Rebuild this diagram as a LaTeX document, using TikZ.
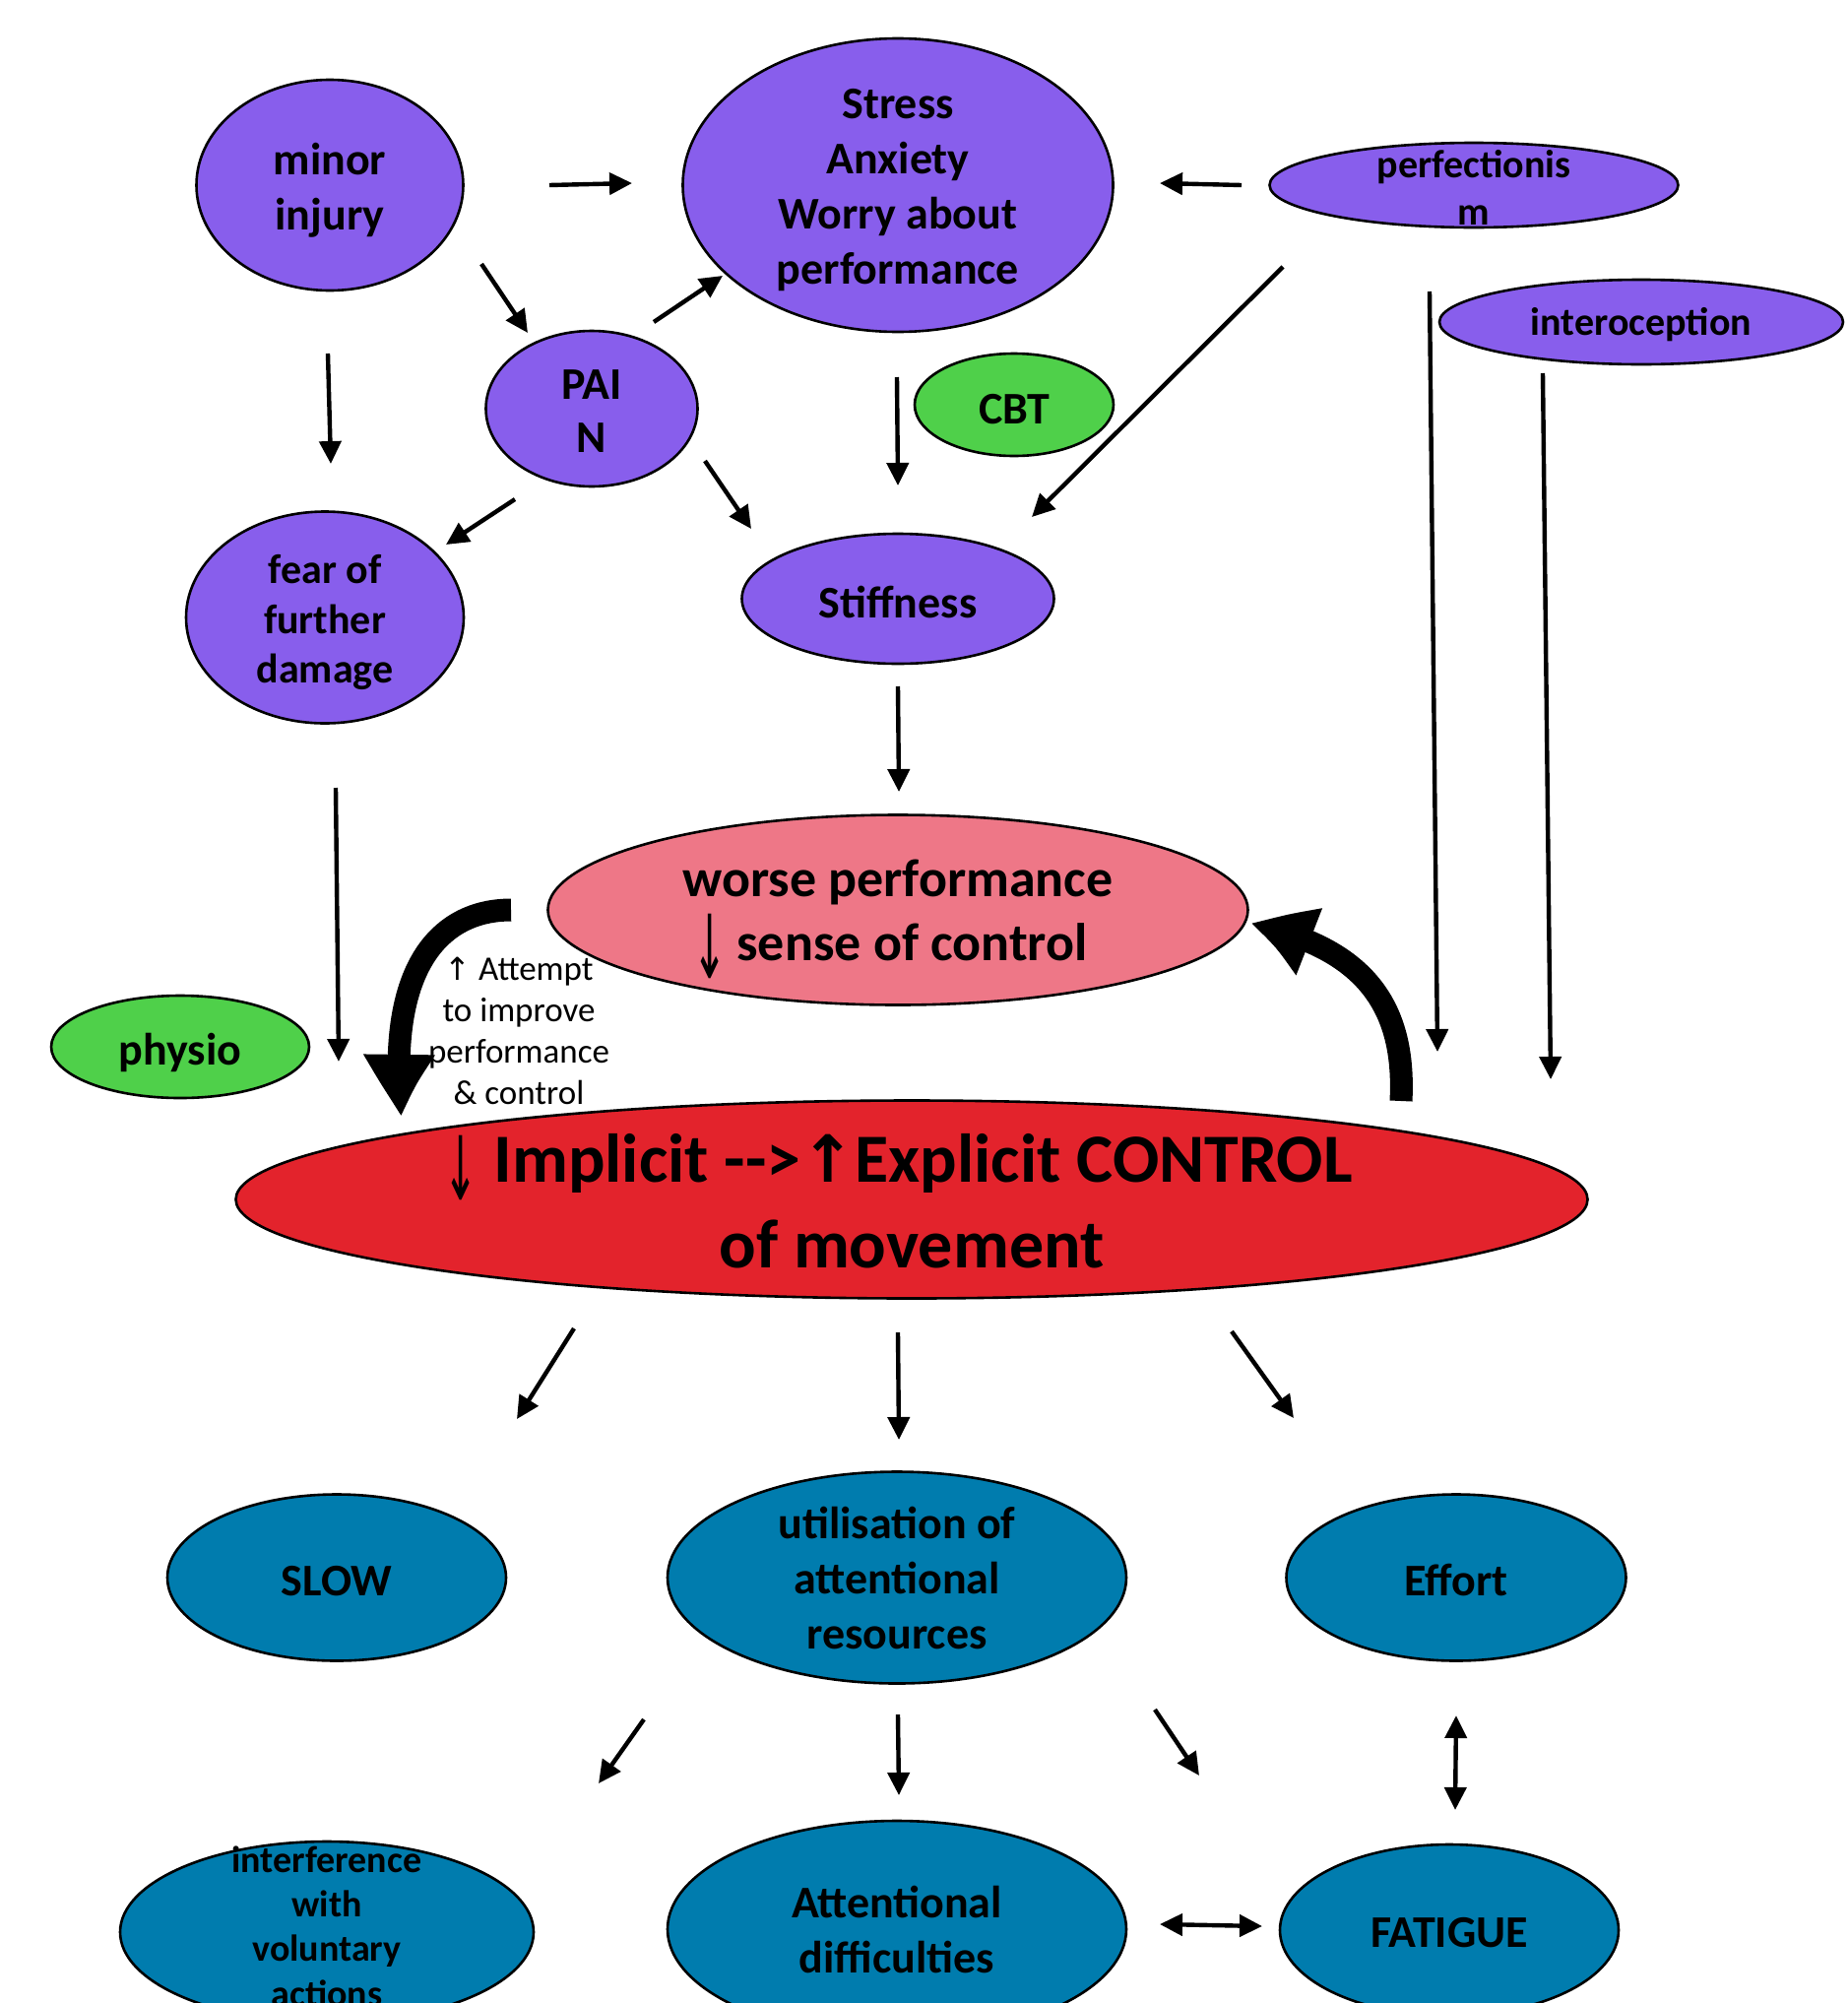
\documentclass[tikz,border=0pt]{standalone}
\usepackage{fontspec}
\newfontfamily\calfont{Carlito}
\newfontfamily\arrowf{DejaVu Sans}
\usetikzlibrary{shapes.geometric,arrows.meta,bending}
\definecolor{cpurple}{RGB}{136,94,236}
\definecolor{cgreen}{RGB}{79,208,74}
\definecolor{cpink}{RGB}{238,119,135}
\definecolor{cred}{RGB}{227,35,44}
\definecolor{cteal}{RGB}{0,124,174}
\tikzset{
 ell/.style={ellipse, draw=black, line width=1.3pt, inner sep=0pt},
 lbl/.style={align=center, inner sep=0pt, font=\calfont\bfseries\fontsize{23}{28}\selectfont},
 arr/.style={line width=2.2pt, -{Triangle[length=11.5pt,width=11pt]}},
 darr/.style={line width=2.2pt, {Triangle[length=11.5pt,width=11pt]}-{Triangle[length=11.5pt,width=11pt]}},
 bigarr/.style={line width=11.5pt, -{Triangle[length=33pt,width=33pt,bend]}},
}
\newcommand{\bigdown}{\smash{\raisebox{-9pt}{\arrowf\mdseries\fontsize{28}{28}\selectfont\scalebox{0.75}[1.6]{↓}}}}
\begin{document}
\begin{tikzpicture}[x=0.5pt,y=-0.5pt]
\useasboundingbox (0,0) rectangle (1876,2034);
\clip (0,0) rectangle (1876,2034);
% ---- purple nodes
\node[ell, fill=cpurple, minimum width=135.5pt, minimum height=107pt] (minor) at (335,188) {};
\node[lbl, yshift=-2.5pt] (minor-t) at (minor) {minor\\injury};
\node[ell, fill=cpurple, minimum width=218.5pt, minimum height=149pt] (stress) at (912,188) {};
\node[lbl, yshift=-2.5pt] (stress-t) at (stress) {Stress\\Anxiety\\Worry about\\performance};
\node[ell, fill=cpurple, minimum width=207.5pt, minimum height=43pt] (perf) at (1497,188) {};
\node[lbl, yshift=-1pt, font=\calfont\bfseries\fontsize{20}{24}\selectfont] (perf-t) at (perf) {perfectionis\\m};
\node[ell, fill=cpurple, minimum width=205pt, minimum height=43pt] (intero) at (1667,327) {};
\node[lbl, yshift=-1.5pt, font=\calfont\bfseries\fontsize{20}{24}\selectfont] (intero-t) at (intero) {interoception};
\node[ell, fill=cpurple, minimum width=107.5pt, minimum height=79pt] (pain) at (601,415) {};
\node[lbl, yshift=-1.5pt, font=\calfont\bfseries\fontsize{23}{27}\selectfont] (pain-t) at (pain) {PAI\\N};
\node[ell, fill=cgreen, minimum width=101pt, minimum height=52pt] (cbt) at (1030,411) {};
\node[lbl, yshift=-2.5pt] (cbt-t) at (cbt) {CBT};
\node[ell, fill=cpurple, minimum width=141pt, minimum height=107.5pt] (fear) at (330,627) {};
\node[lbl, yshift=-2.5pt, font=\calfont\bfseries\fontsize{21}{25.3}\selectfont] (fear-t) at (fear) {fear of\\further\\damage};
\node[ell, fill=cpurple, minimum width=158.5pt, minimum height=66pt] (stiff) at (912,608) {};
\node[lbl, yshift=-1.5pt] (stiff-t) at (stiff) {Stiffness};
% ---- central nodes
\node[ell, fill=cpink, minimum width=355.5pt, minimum height=96.5pt] (worse) at (912,924) {};
\node[lbl, font=\calfont\bfseries\fontsize{27}{32.5}\selectfont] (worse-t) at (worse) {worse performance\\\bigdown\hspace{5pt}sense of control\hspace*{8pt}};
\node[ell, fill=cgreen, minimum width=131pt, minimum height=52pt] (physio) at (183,1063) {};
\node[lbl, yshift=-3pt] (physio-t) at (physio) {physio};
\node[ell, fill=cred, minimum width=686.5pt, minimum height=100.5pt] (impl) at (926,1218) {};
\node[lbl, font=\calfont\bfseries\fontsize{35}{43.5}\selectfont] (impl-t) at (926,1220) {\bigdown\hspace{8pt}Implicit -->{\arrowf\fontsize{33}{33}\selectfont ↑}Explicit CONTROL\hspace*{14pt}\\of movement};
\node[align=center, inner sep=0pt, font=\calfont\fontsize{17.5}{21}\selectfont] (attempt) at (527,1047) {{\arrowf\fontsize{16}{16}\selectfont ↑} Attempt\\to improve\\performance\\\& control};
% ---- teal nodes
\node[ell, fill=cteal, minimum width=172pt, minimum height=84.5pt] (slow) at (342,1602) {};
\node[lbl, yshift=-2pt] (slow-t) at (slow) {SLOW};
\node[ell, fill=cteal, minimum width=233pt, minimum height=107.5pt] (util) at (911,1602) {};
\node[lbl] (util-t) at (util) {utilisation of\\attentional\\resources};
\node[ell, fill=cteal, minimum width=172.5pt, minimum height=84.5pt] (effort) at (1479,1602) {};
\node[lbl, yshift=-1pt] (effort-t) at (effort) {Effort};
\node[ell, fill=cteal, minimum width=210pt, minimum height=92pt] (interf) at (332,1962) {};
\node[lbl, yshift=3pt, font=\calfont\bfseries\fontsize{19}{22.7}\selectfont] (interf-t) at (interf) {interference\\with\\voluntary\\actions};
\node[ell, fill=cteal, minimum width=233pt, minimum height=110pt] (attn) at (911,1959) {};
\node[lbl] (attn-t) at (attn) {Attentional\\difficulties};
\node[ell, fill=cteal, minimum width=172pt, minimum height=87pt] (fatigue) at (1472,1960) {};
\node[lbl, yshift=-1.5pt] (fatigue-t) at (fatigue) {FATIGUE};
% ---- connectors
\draw[arr] ([shift={(223,0)}]minor.center) -- ([shift={(-270,-2)}]stress.center);
\draw[arr] ([shift={(-236,0)}]perf.center) -- ([shift={(266,-2)}]stress.center);
\draw[arr] ([shift={(154,80)}]minor.center) -- ([shift={(-65,-77)}]pain.center);
\draw[arr] ([shift={(63,-88)}]pain.center) -- ([shift={(-178,92)}]stress.center);
\draw[arr] ([shift={(-2,171)}]minor.center) -- ([shift={(6,-156)}]fear.center);
\draw[arr] ([shift={(-78,92)}]pain.center) -- ([shift={(123,-74)}]fear.center);
\draw[arr] ([shift={(115,53)}]pain.center) -- ([shift={(-149,-71)}]stiff.center);
\draw[arr] ([shift={(-1,195)}]stress.center) -- ([shift={(0,-115)}]stiff.center);
\draw[arr] ([shift={(-194,83)}]perf.center) -- ([shift={(136,-83)}]stiff.center);
\draw[arr] ([shift={(-45,108)}]perf.center) -- ([shift={(534,-150)}]impl.center);
\draw[arr] ([shift={(-100,52)}]intero.center) -- ([shift={(649,-122)}]impl.center);
\draw[arr] ([shift={(0,89)}]stiff.center) -- ([shift={(1,-120)}]worse.center);
\draw[arr] ([shift={(11,173)}]fear.center) -- ([shift={(-582,-140)}]impl.center);
\draw[arr] ([shift={(-343,131)}]impl.center) -- ([shift={(183,-161)}]slow.center);
\draw[arr] ([shift={(-14,135)}]impl.center) -- ([shift={(2,-140)}]util.center);
\draw[arr] ([shift={(325,134)}]impl.center) -- ([shift={(-165,-162)}]effort.center);
\draw[arr] ([shift={(-257,144)}]util.center) -- ([shift={(276,-151)}]interf.center);
\draw[arr] ([shift={(1,139)}]util.center) -- ([shift={(2,-136)}]attn.center);
\draw[arr] ([shift={(262,134)}]util.center) -- ([shift={(-254,-157)}]fatigue.center);
\draw[darr] ([shift={(0,140)}]effort.center) -- ([shift={(6,-122)}]fatigue.center);
\draw[darr] ([shift={(267,-5)}]attn.center) -- ([shift={(-190,-4)}]fatigue.center);
% ---- thick curved arrows
\draw[bigarr] ([shift={(-393,0)}]worse.center) .. controls (445,924) and (392,985) .. ([shift={(-518,-84)}]impl.center);
\draw[bigarr] ([shift={(497,-100)}]impl.center) .. controls (1428,1020) and (1385,962) .. ([shift={(358,14)}]worse.center);
\end{tikzpicture}
\end{document}
